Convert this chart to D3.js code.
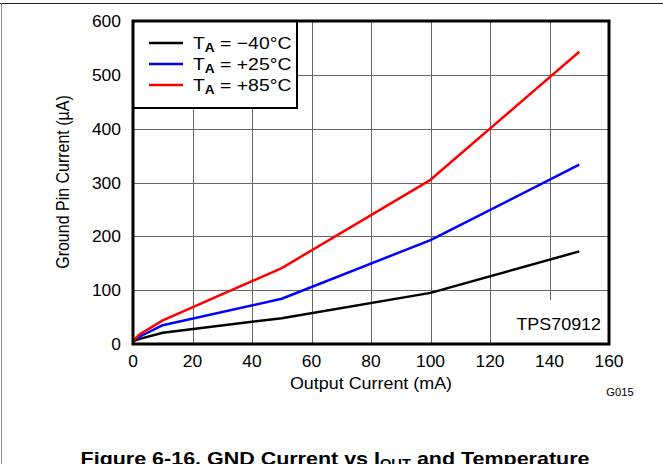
<!DOCTYPE html>
<html>
<head>
<meta charset="utf-8">
<script src="https://cdn.jsdelivr.net/npm/d3@7"></script>
<style>
  body { margin: 0; background: #fff; }
  text { font-family: "Liberation Sans", Arial, sans-serif; }
</style>
</head>
<body>
<svg id="chart"></svg>
<script>
const width = 663
const height = 464

// output current (mA)
const iout = [0, 2, 10, 50, 100, 150]
// ground pin current (uA) per temperature
const gndM40 = [5, 9, 21, 48, 95, 172]
const gnd25 = [5, 13, 35, 84, 193, 333]
const gnd85 = [5, 17, 44, 141, 305, 543]

const seriesNames = ["\u221240\u00b0C", "+25\u00b0C", "+85\u00b0C"]
const seriesColors = ["#000", "#0000ff", "#ff0000"]
const seriesValues = [gndM40, gnd25, gnd85]

const xTicks = [0, 20, 40, 60, 80, 100, 120, 140, 160]
const yTicks = [0, 100, 200, 300, 400, 500, 600]

const margin = { left: 133, right: 54, top: 21, bottom: 120 }

// the source picture is a bit wider than tall, so text is stretched
const stretch = 1.12
const place = (x, y, sx = stretch) => `translate(${x},${y}) scale(${sx},1)`

const svg = d3.select("#chart")
  .attr("width", width)
  .attr("height", height)

// page frame
svg.append("line")
  .attr("x1", 0).attr("x2", width).attr("y1", 3.5).attr("y2", 3.5)
  .attr("stroke", "#222").attr("stroke-width", 1)
svg.append("line")
  .attr("x1", 1.5).attr("x2", 1.5).attr("y1", 3).attr("y2", height)
  .attr("stroke", "#888").attr("stroke-width", 1)

const x = d3.scaleLinear().domain([0, 160]).range([margin.left, width - margin.right])
const y = d3.scaleLinear().domain([0, 600]).range([height - margin.bottom, margin.top])

// grid
const grid = svg.append("g").attr("stroke", "#666").attr("stroke-width", 1)
grid.selectAll(".vx")
  .data(xTicks.slice(1, -1))
  .join("line")
  .attr("x1", d => Math.round(x(d)) + 0.5).attr("x2", d => Math.round(x(d)) + 0.5)
  .attr("y1", y(0)).attr("y2", y(600))
grid.selectAll(".hy")
  .data(yTicks.slice(1, -1))
  .join("line")
  .attr("x1", x(0)).attr("x2", x(160))
  .attr("y1", d => Math.round(y(d)) + 0.5).attr("y2", d => Math.round(y(d)) + 0.5)

// curves
const line = d3.line()
  .x((d, i) => x(iout[i]))
  .y(d => y(d))

svg.append("g")
  .selectAll("path")
  .data(seriesValues)
  .join("path")
  .attr("fill", "none")
  .attr("stroke", (d, i) => seriesColors[i])
  .attr("stroke-width", 2.5)
  .attr("stroke-linejoin", "round")
  .attr("d", line)

// part number label (white box hides grid)
svg.append("rect")
  .attr("x", 500).attr("y", 300)
  .attr("width", x(160) - 500).attr("height", y(0) - 300)
  .attr("fill", "#fff")
svg.append("text")
  .attr("transform", place(601, 330))
  .attr("text-anchor", "end")
  .attr("font-size", 16)
  .text("TPS70912")

// legend
const legend = svg.append("g")
legend.append("rect")
  .attr("x", x(0)).attr("y", y(600))
  .attr("width", 164).attr("height", 87)
  .attr("fill", "#fff")
  .attr("stroke", "#000")
  .attr("stroke-width", 2)

const rows = legend.selectAll(".row")
  .data(seriesNames)
  .join("g")
  .attr("transform", (d, i) => `translate(0, ${43 + i * 21})`)

rows.append("line")
  .attr("x1", 149).attr("x2", 183)
  .attr("stroke", (d, i) => seriesColors[i])
  .attr("stroke-width", 2.5)

const lt = rows.append("text")
  .attr("transform", place(193, 6, 1.14))
  .attr("font-size", 17)
lt.append("tspan").text("T")
lt.append("tspan").attr("font-weight", "bold").attr("font-size", 12).attr("dy", 3).text("A")
lt.append("tspan").attr("dy", -3).text(d => " = " + d)

// axes frame
svg.append("rect")
  .attr("x", x(0)).attr("y", y(600))
  .attr("width", x(160) - x(0)).attr("height", y(0) - y(600))
  .attr("fill", "none")
  .attr("stroke", "#000")
  .attr("stroke-width", 3)

// tick labels
svg.append("g")
  .selectAll("text")
  .data(xTicks)
  .join("text")
  .attr("transform", d => place(x(d), 367, 1.09))
  .attr("text-anchor", "middle")
  .attr("font-size", 16)
  .text(d => d)

svg.append("g")
  .selectAll("text")
  .data(yTicks)
  .join("text")
  .attr("transform", d => place(121, y(d) + 6, 1.09))
  .attr("text-anchor", "end")
  .attr("font-size", 16)
  .text(d => d)

// axis titles
svg.append("text")
  .attr("transform", place(371, 389))
  .attr("text-anchor", "middle")
  .attr("font-size", 16)
  .text("Output Current (mA)")

svg.append("text")
  .attr("transform", `translate(69, 182) rotate(-90) scale(1, ${stretch})`)
  .attr("text-anchor", "middle")
  .attr("font-size", 16)
  .text("Ground Pin Current (\u00b5A)")

svg.append("text")
  .attr("transform", place(620, 396))
  .attr("text-anchor", "middle")
  .attr("font-size", 10)
  .text("G015")

// caption
const cap = svg.append("text")
  .attr("transform", place(335, 465, 1.13))
  .attr("text-anchor", "middle")
  .attr("font-size", 19)
  .attr("font-weight", "bold")
cap.append("tspan").text("Figure 6-16. GND Current vs I")
cap.append("tspan").attr("font-size", 13).attr("dy", 3).text("OUT")
cap.append("tspan").attr("dy", -3).text(" and Temperature")
</script>
</body>
</html>
